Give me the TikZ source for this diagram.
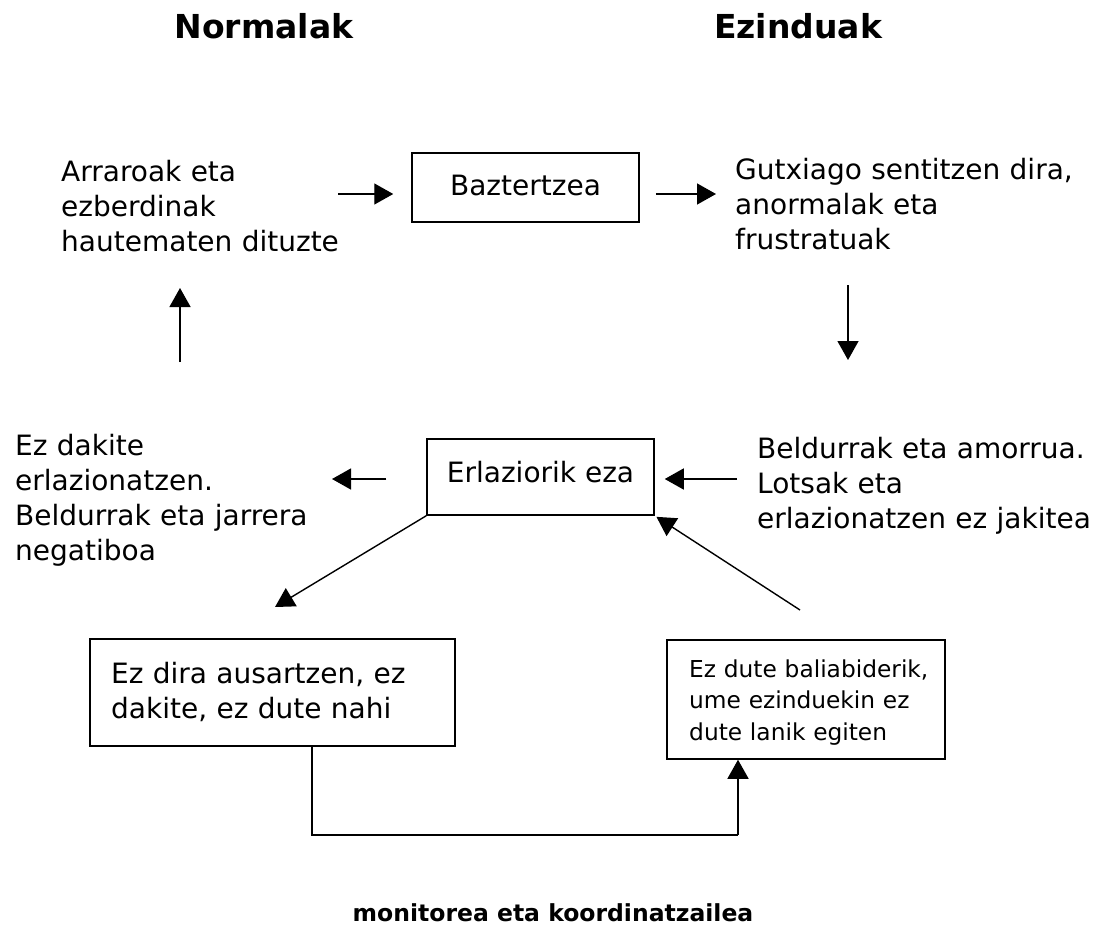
\documentclass[tikz,border=0pt]{standalone}
\usepackage{fontspec}
\setmainfont{DejaVu Sans}
\usetikzlibrary{arrows.meta}
\tikzset{
  maintext/.style={font=\fontsize{28}{35}\selectfont, inner sep=0pt, align=left, anchor=base west},
  smalltext/.style={font=\fontsize{23.3}{31.5}\selectfont, inner sep=0pt, align=left, anchor=base west},
  titletext/.style={font=\bfseries\fontsize{33}{40}\selectfont, inner sep=0pt, anchor=base},
  foottext/.style={font=\bfseries\fontsize{23.5}{28}\selectfont, inner sep=0pt, anchor=base},
  boxnode/.style={draw, line width=1.5pt, inner sep=0pt},
  labelbox/.style={boxnode, font=\fontsize{28}{35}\selectfont, text height=20pt, text depth=10pt},
  arr/.style={line width=1.4pt, -{Triangle[length=19pt,width=21pt]}},
  plain/.style={line width=1.4pt}
}
\begin{document}
\begin{tikzpicture}[x=1pt,y=-1pt]
\useasboundingbox (0,0) rectangle (1093,927);
% titles
\node[titletext] (tn) at (264,38) {Normalak};
\node[titletext] (te) at (798,38) {Ezinduak};
% text blocks
\node[maintext, text width=300pt] (arr) at (61,181) {Arraroak eta\\ezberdinak\\hautematen dituzte};
\node[maintext, text width=350pt] (gut) at (735,179) {Gutxiago sentitzen dira,\\anormalak eta\\frustratuak};
\node[maintext, text width=330pt] (ezd) at (15,455) {Ez dakite\\erlazionatzen.\\Beldurrak eta jarrera\\negatiboa};
\node[maintext, text width=340pt] (bel) at (757,458) {Beldurrak eta amorrua.\\Lotsak eta\\erlazionatzen ez jakitea};
% boxes
\node[labelbox, text depth=5pt, minimum width=227pt, minimum height=69pt] (bz) at (525.5,187.5) {Baztertzea};
\node[labelbox, minimum width=227pt, minimum height=76pt] (erl) at (540.5,477) {Erlaziorik eza};
\node[boxnode, minimum width=365pt, minimum height=107pt] (lbox) at (272.5,692.5) {};
\node[boxnode, minimum width=278pt, minimum height=119pt] (rbox) at (806,699.5) {};
\node[maintext, text width=330pt] (ltxt) at (111,683) {Ez dira ausartzen, ez\\dakite, ez dute nahi};
\node[smalltext, text width=250pt] (rtxt) at (689,677) {Ez dute baliabiderik,\\ume ezinduekin ez\\dute lanik egiten};
% footer
\node[foottext] (foot) at (553,921) {monitorea eta koordinatzailea};
% connector end points
\coordinate (a1s) at (338,194);
\coordinate (a2e) at (716,194);
\coordinate (dns) at (848,285);
\coordinate (dne) at (848,360);
\coordinate (ups) at (180,362);
\coordinate (upe) at (180,288);
\coordinate (lte) at (332,479);
\coordinate (rts) at (737,479);
\coordinate (d1e) at (275,607);
\coordinate (d2s) at (800,610);
\coordinate (c1) at (312,835);
\coordinate (c2) at (738,835);
% arrows
\draw[arr] (a1s) -- ([xshift=-18pt]bz.west |- a1s);
\draw[arr] ([xshift=16pt]bz.east |- a2e) -- (a2e);
\draw[arr] (dns) -- (dne);
\draw[arr] (ups) -- (upe);
\draw[arr] ([xshift=-40pt]erl.west |- lte) -- (lte);
\draw[arr] (rts) -- ([xshift=10pt]erl.east |- rts);
\draw[arr] (erl.south west) -- (d1e);
\draw[arr, shorten >=2pt] (d2s) -- (erl.south east);
\draw[plain] (c1 |- lbox.south) -- (c1) -- (c2);
\draw[arr] (c2) -- (c2 |- rbox.south);
\end{tikzpicture}
\end{document}
